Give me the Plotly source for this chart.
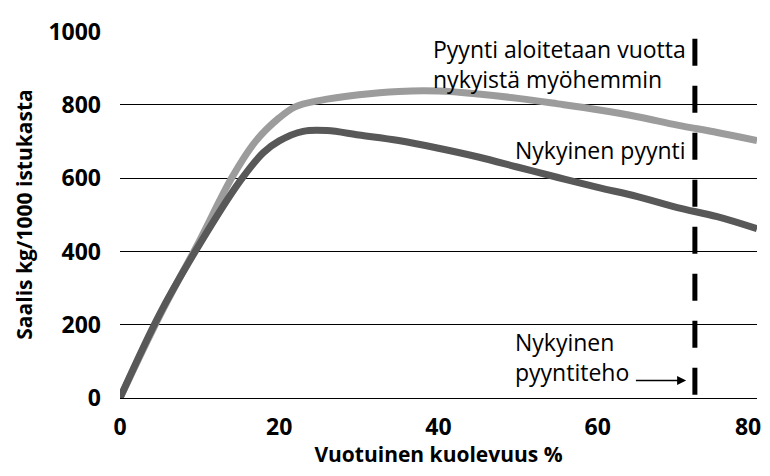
import plotly.graph_objects as go

x_current = [0, 5, 10, 15, 18, 20, 23, 26, 30, 35, 40, 45, 50, 55, 60, 65, 70, 75, 80]
y_current = [0, 230, 420, 590, 670, 702, 728, 730, 718, 703, 682, 658, 630, 602, 575, 550, 520, 495, 462]

x_later = [0, 5, 10, 14, 17, 20, 22, 25, 30, 35, 40, 45, 50, 55, 60, 65, 70, 75, 80]
y_later = [0, 225, 430, 600, 700, 765, 795, 812, 828, 837, 838, 830, 818, 803, 787, 768, 745, 725, 703]

current_effort = 72.2
y_ticks = [0, 200, 400, 600, 800, 1000]
x_ticks = [0, 20, 40, 60, 80]
x_tick_text = ["0", "20", "40", "60", "80\u00a0\u00a0\u00a0"]

txt_font = dict(family="Open Sans, Lato, sans-serif", size=23, color="black")
tick_font = dict(family="Open Sans, Lato, sans-serif", size=23, color="black", weight="bold")
title_font = dict(family="Open Sans, Lato, sans-serif", size=21, color="black", weight="bold")

fig = go.Figure()
fig.add_trace(go.Scatter(x=x_later, y=y_later, mode="lines", line=dict(color="#9c9c9c", width=7, shape="spline"), showlegend=False))
fig.add_trace(go.Scatter(x=x_current, y=y_current, mode="lines", line=dict(color="#585858", width=7, shape="spline"), showlegend=False))
fig.add_trace(go.Scatter(x=[current_effort, current_effort], y=[981, 0], mode="lines",
                         line=dict(color="black", width=5, dash="27px,20px"), showlegend=False))

fig.add_annotation(x=71.3, y=913, text="Pyynti aloitetaan vuotta<br>nykyistä myöhemmin", showarrow=False,
                   xanchor="right", yanchor="middle", align="left", font=txt_font)
fig.add_annotation(x=71.3, y=676, text="Nykyinen pyynti", showarrow=False,
                   xanchor="right", yanchor="middle", font=txt_font)
fig.add_annotation(x=49.3, y=112, text="Nykyinen<br>pyyntiteho", showarrow=False,
                   xanchor="left", yanchor="middle", align="left", font=txt_font)
fig.add_annotation(x=71.1, y=48, ax=64.6, ay=48, axref="x", ayref="y", xref="x", yref="y",
                   text="", showarrow=True, arrowhead=2, arrowsize=1.2, arrowwidth=1.5, arrowcolor="black")

fig.update_layout(
    width=762, height=460,
    margin=dict(l=112, r=13, t=23, b=70),
    plot_bgcolor="white", paper_bgcolor="white",
    font=dict(family="Open Sans, Lato, sans-serif", color="black"),
)
fig.update_xaxes(range=[0, 80], tickvals=x_ticks, ticktext=x_tick_text, showgrid=False, zeroline=False, showline=False,
                 tickfont=tick_font, ticklabelstandoff=13, automargin=False, ticklabeloverflow="allow",
                 title=dict(text="Vuotuinen kuolevuus %", font=title_font, standoff=6))
fig.update_yaxes(range=[0, 1002], tickvals=y_ticks, showgrid=True, gridcolor="black", gridwidth=1.3,
                 zeroline=True, zerolinecolor="black", zerolinewidth=1.3, showline=False,
                 tickfont=tick_font, ticklabelstandoff=18, automargin=False, ticklabeloverflow="allow",
                 title=dict(text="Saalis kg/1000 istukasta", font=title_font, standoff=10))

fig.write_html("out.html")
